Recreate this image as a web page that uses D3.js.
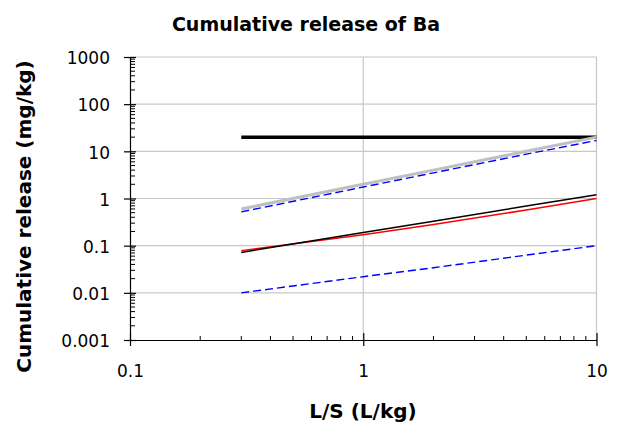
<!DOCTYPE html>
<html><head><meta charset="utf-8">
<script src="https://cdn.jsdelivr.net/npm/d3@7/dist/d3.min.js"></script>
<style>body{margin:0;background:#fff}svg{display:block}text{font-family:"DejaVu Sans",Verdana,sans-serif}</style>
</head><body><svg id="c" width="621" height="426"></svg>
<script>
const xs = [0.3, 1, 2, 5, 10];
const limitHigh = [20, 20, 20, 20, 20];
const grayLine = [0.6, 2, 4, 10, 20];
const blueUpper = [0.52, 1.75, 3.5, 8.7, 17];
const blackThin = [0.072, 0.19, 0.33, 0.69, 1.2];
const redLine = [0.078, 0.17, 0.28, 0.57, 1.0];
const blueLower = [0.01, 0.022, 0.034, 0.063, 0.1];
const yTicks = [0.001, 0.01, 0.1, 1, 10, 100, 1000];
const yTickLabels = ["0.001", "0.01", "0.1", "1", "10", "100", "1000"];
const xTicks = [0.1, 1, 10];
const xTickLabels = ["0.1", "1", "10"];

const svg = d3.select("#c");
const L = 130, R = 596.5, T = 57, B = 340;
const x = d3.scaleLog().domain([0.1, 10]).range([L, R]);
const y = d3.scaleLog().domain([0.001, 1000]).range([B, T]);
const grid = "#c8c8c8";

// gridlines
svg.append("g").selectAll("line").data(yTicks.slice(1)).join("line")
  .attr("x1", L).attr("x2", R).attr("y1", d => y(d)).attr("y2", d => y(d))
  .attr("stroke", grid).attr("stroke-width", 1.2);
svg.append("g").selectAll("line").data(xTicks.slice(1)).join("line")
  .attr("x1", d => x(d)).attr("x2", d => x(d)).attr("y1", T).attr("y2", B)
  .attr("stroke", grid).attr("stroke-width", 1.2);

// minor ticks
const yMinor = [];
for (let e = -3; e < 3; e++) for (let k = 2; k <= 9; k++) yMinor.push(k * Math.pow(10, e));
const xMinor = [];
for (let e = -1; e < 1; e++) for (let k = 2; k <= 9; k++) xMinor.push(k * Math.pow(10, e));
svg.append("g").selectAll("line").data(yMinor).join("line")
  .attr("x1", L).attr("x2", L + 5).attr("y1", d => y(d)).attr("y2", d => y(d))
  .attr("stroke", "#000").attr("stroke-width", 1);
svg.append("g").selectAll("line").data(xMinor).join("line")
  .attr("x1", d => x(d)).attr("x2", d => x(d)).attr("y1", B - 4).attr("y2", B)
  .attr("stroke", "#000").attr("stroke-width", 1);

// axes
const yAxis = d3.axisLeft(y).tickValues(yTicks).tickFormat((d, i) => yTickLabels[i]).tickSizeInner(6).tickSizeOuter(0).tickPadding(14);
const ya = svg.append("g").attr("transform", `translate(${L},0)`).call(yAxis);
ya.selectAll(".tick line").attr("x2", -6).attr("x1", 6).attr("stroke-width", 1.2);
ya.select(".domain").attr("stroke-width", 1.2);
ya.selectAll("text").attr("font-size", 17).attr("font-family", "DejaVu Sans").attr("fill", "#000").attr("dy", "0.4em");

const xAxis = d3.axisBottom(x).tickValues(xTicks).tickFormat((d, i) => xTickLabels[i]).tickSizeInner(6).tickSizeOuter(0).tickPadding(19);
const xa = svg.append("g").attr("transform", `translate(0,${B})`).call(xAxis);
xa.selectAll(".tick line").attr("y1", -7).attr("y2", 6).attr("stroke-width", 1.2);
xa.select(".domain").attr("stroke-width", 1.2);
xa.selectAll("text").attr("font-size", 17).attr("font-family", "DejaVu Sans").attr("fill", "#000");

// series
const line = d3.line().x(d => x(d[0])).y(d => y(d[1]));
const series = [
  {v: limitHigh, c: "#000", w: 3.5},
  {v: grayLine, c: "#c0c0c0", w: 3},
  {v: blueUpper, c: "#0000ff", w: 1.4, dash: "8,4"},
  {v: blueLower, c: "#0000ff", w: 1.4, dash: "8,4"},
  {v: redLine, c: "#ff0000", w: 1.5},
  {v: blackThin, c: "#000", w: 1.5}
];
svg.append("g").selectAll("path").data(series).join("path")
  .attr("d", s => line(xs.map((xv, i) => [xv, s.v[i]])))
  .attr("fill", "none").attr("stroke", s => s.c).attr("stroke-width", s => s.w)
  .attr("stroke-dasharray", s => s.dash || null);

// titles
svg.append("text").attr("x", 306).attr("y", 31).attr("text-anchor", "middle")
  .attr("font-size", 19).attr("font-weight", "bold").text("Cumulative release of Ba");
svg.append("text").attr("x", 363).attr("y", 418).attr("text-anchor", "middle")
  .attr("font-size", 20).attr("font-weight", "bold").text("L/S (L/kg)");
svg.append("text").attr("transform", "translate(31,216.5) rotate(-90)").attr("text-anchor", "middle")
  .attr("font-size", 20).attr("font-weight", "bold").text("Cumulative release (mg/kg)");
</script></body></html>
